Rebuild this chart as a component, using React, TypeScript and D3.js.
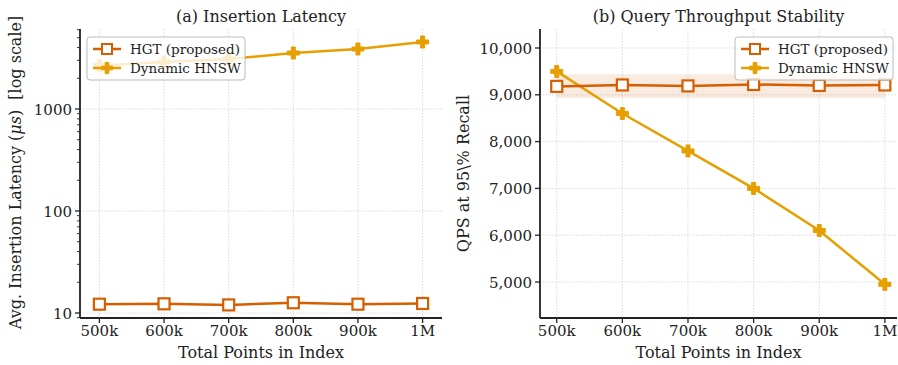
import React from "react";
import * as d3 from "d3";

const xLabels = ["500k", "600k", "700k", "800k", "900k", "1M"];
const xValues = [500, 600, 700, 800, 900, 1000];
const hgtLatency = [12.2, 12.3, 12.0, 12.6, 12.2, 12.4];
const hnswLatency = [2650, 2890, 3090, 3540, 3875, 4540];
const hgtQps = [9180, 9210, 9190, 9220, 9200, 9210];
const hnswQps = [9500, 8600, 7800, 7000, 6100, 4950];
const hgtBandLow = [8930, 8930, 8930, 8930, 8930, 8930];
const hgtBandHigh = [9440, 9440, 9440, 9440, 9440, 9440];
const qpsTicks = [5000, 6000, 7000, 8000, 9000, 10000];
const latencyTicks = [10, 100, 1000];

const HGT_COLOR = "#d55e00";
const HNSW_COLOR = "#e69f00";
const FONT = "'DejaVu Serif', serif";
const TEXT = "#222";

const plusPath = (s: number) => {
  const a = s / 2, b = s / 6;
  return `M${-b},${-a}H${b}V${-b}H${a}V${b}H${b}V${a}H${-b}V${b}H${-a}V${-b}H${-b}Z`;
};

function Legend({ x, y }: { x: number; y: number }) {
  return (
    <g transform={`translate(${x},${y})`}>
      <rect x={0} y={0} width={158} height={43} rx={3} fill="white" fillOpacity={0.8} stroke="#bbbbbb" strokeWidth={1} />
      <line x1={6} x2={34} y1={12} y2={12} stroke={HGT_COLOR} strokeWidth={2.5} />
      <rect x={15} y={7} width={10} height={10} fill="white" stroke={HGT_COLOR} strokeWidth={2} />
      <text x={43} y={16.5} fontSize={13.5} fontFamily={FONT} fill={TEXT}>HGT (proposed)</text>
      <line x1={6} x2={34} y1={31} y2={31} stroke={HNSW_COLOR} strokeWidth={2.5} />
      <path d={plusPath(11)} transform="translate(20,31)" fill={HNSW_COLOR} stroke={HNSW_COLOR} strokeWidth={1} />
      <text x={43} y={35.5} fontSize={13.5} fontFamily={FONT} fill={TEXT}>Dynamic HNSW</text>
    </g>
  );
}

function LeftPanel() {
  const left = 80, right = 442, top = 29, bottom = 318;
  const x = d3.scaleLinear().domain([470, 1030]).range([left, right]);
  const y = d3.scaleLog().domain([10, 1000]).range([313, 109]);
  const yMin = y.invert(bottom), yMax = y.invert(top);
  const yS = d3.scaleLog().domain([yMin, yMax]).range([bottom, top]);
  const minor: number[] = [];
  for (let e = 0; e <= 3; e++) for (let m = 2; m <= 9; m++) {
    const v = m * Math.pow(10, e);
    if (v >= yMin && v <= yMax) minor.push(v);
  }
  const line = d3.line<number>().x((_, i) => x(xValues[i])).y((d) => yS(d));
  return (
    <g>
      {xValues.map((v) => (
        <line key={"gx" + v} x1={x(v)} x2={x(v)} y1={top} y2={bottom} stroke="#d0d0d0" strokeWidth={0.8} strokeDasharray="1.5,1.5" />
      ))}
      {latencyTicks.map((v) => (
        <line key={"gy" + v} x1={left} x2={right} y1={yS(v)} y2={yS(v)} stroke="#d0d0d0" strokeWidth={0.8} strokeDasharray="1.5,1.5" />
      ))}
      <path d={line(hnswLatency) || ""} fill="none" stroke={HNSW_COLOR} strokeWidth={2.5} />
      {hnswLatency.map((v, i) => (
        <path key={"hm" + i} d={plusPath(12)} transform={`translate(${x(xValues[i])},${yS(v)})`} fill={HNSW_COLOR} stroke={HNSW_COLOR} strokeWidth={1} />
      ))}
      <path d={line(hgtLatency) || ""} fill="none" stroke={HGT_COLOR} strokeWidth={2.5} />
      {hgtLatency.map((v, i) => (
        <rect key={"gm" + i} x={x(xValues[i]) - 5.5} y={yS(v) - 5.5} width={11} height={11} fill="white" stroke={HGT_COLOR} strokeWidth={2.2} />
      ))}
      <line x1={left} x2={left} y1={top} y2={bottom} stroke={TEXT} strokeWidth={1.8} />
      <line x1={left} x2={right} y1={bottom} y2={bottom} stroke={TEXT} strokeWidth={1.8} />
      {latencyTicks.map((v) => (
        <g key={"ty" + v}>
          <line x1={left - 5} x2={left} y1={yS(v)} y2={yS(v)} stroke={TEXT} strokeWidth={1.3} />
          <text x={left - 8} y={yS(v) + 5.5} textAnchor="end" fontSize={15} fontFamily={FONT} fill={TEXT}>{v}</text>
        </g>
      ))}
      {minor.map((v) => (
        <line key={"mn" + v} x1={left - 3} x2={left} y1={yS(v)} y2={yS(v)} stroke={TEXT} strokeWidth={0.9} />
      ))}
      {xValues.map((v, i) => (
        <g key={"tx" + v}>
          <line x1={x(v)} x2={x(v)} y1={bottom} y2={bottom + 5} stroke={TEXT} strokeWidth={1.3} />
          <text x={x(v)} y={bottom + 18} textAnchor="middle" fontSize={15} fontFamily={FONT} fill={TEXT}>{xLabels[i]}</text>
        </g>
      ))}
      <text x={(left + right) / 2} y={bottom + 40} textAnchor="middle" fontSize={16} fontFamily={FONT} fill={TEXT}>Total Points in Index</text>
      <text transform={`translate(21,${(top + bottom) / 2 - 1}) rotate(-90)`} textAnchor="middle" fontSize={16} fontFamily={FONT} fill={TEXT}>
        {"Avg. Insertion Latency ("}<tspan fontStyle="italic">μs</tspan>{")\u00a0\u00a0[log scale]"}
      </text>
      <text x={(left + right) / 2} y={22} textAnchor="middle" fontSize={16} fontFamily={FONT} fill={TEXT}>(a) Insertion Latency</text>
      <Legend x={87} y={37} />
    </g>
  );
}

function RightPanel() {
  const left = 540, right = 897, top = 29, bottom = 318;
  const x = d3.scaleLinear().domain([xValues[0] - 25.5, xValues[5] + 18.5]).range([left, right]);
  const y0 = d3.scaleLinear().domain([5000, 10000]).range([282, 48]);
  const y = d3.scaleLinear().domain([y0.invert(bottom), y0.invert(top)]).range([bottom, top]);
  const line = d3.line<number>().x((_, i) => x(xValues[i])).y((d) => y(d));
  const area = d3.area<number>().x((_, i) => x(xValues[i])).y0((_, i) => y(hgtBandLow[i])).y1((_, i) => y(hgtBandHigh[i]));
  const fmt = d3.format(",");
  return (
    <g>
      {xValues.map((v) => (
        <line key={"gx" + v} x1={x(v)} x2={x(v)} y1={top} y2={bottom} stroke="#d0d0d0" strokeWidth={0.8} strokeDasharray="1.5,1.5" />
      ))}
      {qpsTicks.map((v) => (
        <line key={"gy" + v} x1={left} x2={right} y1={y(v)} y2={y(v)} stroke="#d0d0d0" strokeWidth={0.8} strokeDasharray="1.5,1.5" />
      ))}
      <path d={area(hgtBandLow) || ""} fill={HGT_COLOR} fillOpacity={0.12} />
      <path d={line(hnswQps) || ""} fill="none" stroke={HNSW_COLOR} strokeWidth={2.5} />
      {hnswQps.map((v, i) => (
        <path key={"hm" + i} d={plusPath(12)} transform={`translate(${x(xValues[i])},${y(v)})`} fill={HNSW_COLOR} stroke={HNSW_COLOR} strokeWidth={1} />
      ))}
      <path d={line(hgtQps) || ""} fill="none" stroke={HGT_COLOR} strokeWidth={2.5} />
      {hgtQps.map((v, i) => (
        <rect key={"gm" + i} x={x(xValues[i]) - 5.5} y={y(v) - 5.5} width={11} height={11} fill="white" stroke={HGT_COLOR} strokeWidth={2.2} />
      ))}
      <line x1={left} x2={left} y1={top} y2={bottom} stroke={TEXT} strokeWidth={1.8} />
      <line x1={left} x2={right} y1={bottom} y2={bottom} stroke={TEXT} strokeWidth={1.8} />
      {qpsTicks.map((v) => (
        <g key={"ty" + v}>
          <line x1={left - 5} x2={left} y1={y(v)} y2={y(v)} stroke={TEXT} strokeWidth={1.3} />
          <text x={left - 8} y={y(v) + 5.5} textAnchor="end" fontSize={15} fontFamily={FONT} fill={TEXT}>{fmt(v)}</text>
        </g>
      ))}
      {xValues.map((v, i) => (
        <g key={"tx" + v}>
          <line x1={x(v)} x2={x(v)} y1={bottom} y2={bottom + 5} stroke={TEXT} strokeWidth={1.3} />
          <text x={x(v)} y={bottom + 18} textAnchor="middle" fontSize={15} fontFamily={FONT} fill={TEXT}>{xLabels[i]}</text>
        </g>
      ))}
      <text x={(left + right) / 2} y={bottom + 40} textAnchor="middle" fontSize={16} fontFamily={FONT} fill={TEXT}>Total Points in Index</text>
      <text transform={`translate(469,${(top + bottom) / 2}) rotate(-90)`} textAnchor="middle" fontSize={16} fontFamily={FONT} fill={TEXT}>
        QPS at 95\% Recall
      </text>
      <text x={(left + right) / 2} y={22} textAnchor="middle" fontSize={16} fontFamily={FONT} fill={TEXT}>(b) Query Throughput Stability</text>
      <Legend x={735} y={37} />
    </g>
  );
}

export default function App() {
  return (
    <svg width={898} height={365} style={{ position: "absolute", left: 0, top: 0, background: "white" }}>
      <rect width={898} height={365} fill="white" />
      <LeftPanel />
      <RightPanel />
    </svg>
  );
}
